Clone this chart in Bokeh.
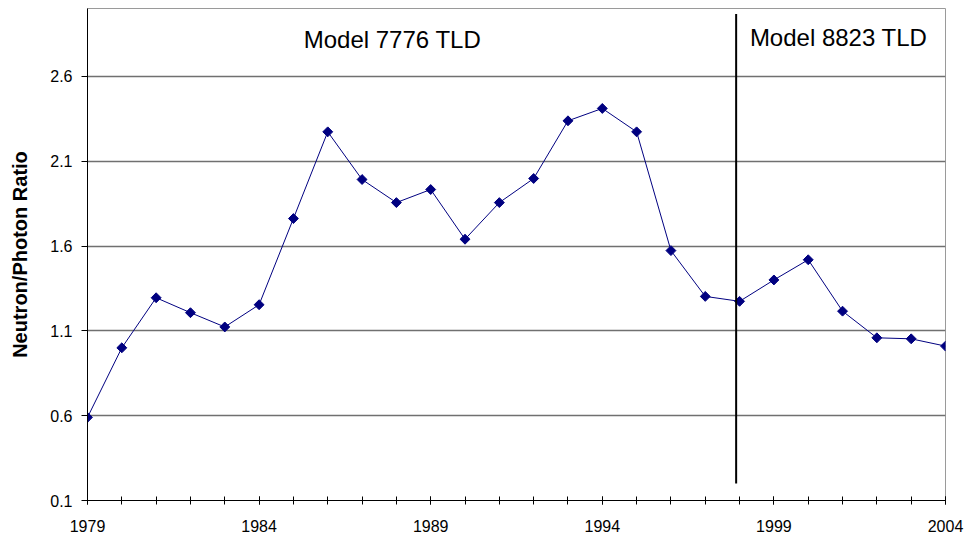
import math
from bokeh.plotting import figure
from bokeh.models import Range1d, FixedTicker, Label
from bokeh.embed import file_html
from bokeh.resources import INLINE

years = list(range(1979, 2005))
ratio = [0.59, 1.00, 1.295, 1.207, 1.123, 1.254, 1.762, 2.273, 1.992, 1.856,
         1.933, 1.640, 1.856, 1.998, 2.338, 2.411, 2.273, 1.573, 1.303, 1.274,
         1.400, 1.519, 1.216, 1.059, 1.053, 1.010]
x_tick_labels = [1979, 1984, 1989, 1994, 1999, 2004]
y_ticks = [0.1, 0.6, 1.1, 1.6, 2.1, 2.6]
changeover_year = 1997.9
divider_bottom = 0.2
divider_top = 2.967
model_labels = ["Model 7776 TLD", "Model 8823 TLD"]
model_label_x = [1985.3, 1998.3]
model_label_y = [2.815, 2.83]

p = figure(width=964, height=535, output_backend="svg", toolbar_location=None,
           x_range=Range1d(1979, 2004), y_range=Range1d(0.1, 3.0),
           min_border_left=87, min_border_right=19, min_border_top=8,
           min_border_bottom=35)
p.background_fill_color = "white"
p.border_fill_color = "white"
p.outline_line_color = "#9a9a9a"
p.outline_line_width = 1

# grid
p.xgrid.visible = False
p.ygrid.ticker = FixedTicker(ticks=y_ticks[1:])
p.ygrid.grid_line_color = "#707070"
p.ygrid.grid_line_width = 1.3

# x axis
p.xaxis.ticker = FixedTicker(ticks=x_tick_labels, minor_ticks=years)
p.xaxis.axis_line_color = "black"
p.xaxis.axis_line_width = 1
p.xaxis.major_tick_in = 4
p.xaxis.major_tick_out = 4
p.xaxis.minor_tick_in = 4
p.xaxis.minor_tick_out = 4
p.xaxis.major_tick_line_color = "black"
p.xaxis.minor_tick_line_color = "black"
p.xaxis.major_label_text_font = "Liberation Sans"
p.xaxis.major_label_text_font_size = "16px"
p.xaxis.major_label_text_color = "black"
p.xaxis.major_label_standoff = 15

# y axis
p.yaxis.ticker = FixedTicker(ticks=y_ticks)
p.yaxis.axis_line_color = "black"
p.yaxis.major_tick_in = 0
p.yaxis.major_tick_out = 6
p.yaxis.minor_tick_line_color = None
p.yaxis.major_tick_line_color = "black"
p.yaxis.major_label_text_font = "Liberation Sans"
p.yaxis.major_label_text_font_size = "16px"
p.yaxis.major_label_text_color = "black"
p.yaxis.major_label_standoff = 9
p.yaxis.axis_label = "Neutron/Photon Ratio"
p.yaxis.axis_label_text_font = "Liberation Sans"
p.yaxis.axis_label_text_font_size = "20px"
p.yaxis.axis_label_text_font_style = "bold"
p.yaxis.axis_label_text_color = "black"
p.yaxis.axis_label_standoff = 16

# data
p.line(years, ratio, line_color="#000080", line_width=1)
p.scatter(years, ratio, marker="square", size=7, angle=math.pi / 4,
          fill_color="#000080", line_color="#000080")

# divider
p.segment(x0=[changeover_year], y0=[divider_bottom], x1=[changeover_year],
          y1=[divider_top], line_color="black", line_width=2)

for txt, xx, yy in zip(model_labels, model_label_x, model_label_y):
    p.add_layout(Label(x=xx, y=yy, text=txt, text_align="left",
                       text_baseline="alphabetic", text_font="Liberation Sans",
                       text_font_size="24px", text_color="black"))

open("out.html", "w").write(file_html(p, INLINE))
